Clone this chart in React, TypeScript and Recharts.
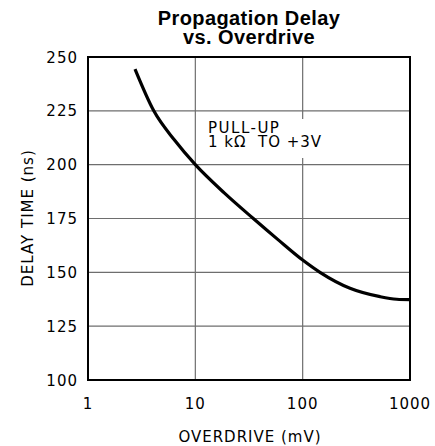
import React from "react";
import { LineChart, Line, XAxis, YAxis, CartesianGrid, Customized } from "recharts";

const overdriveMv = [2.74, 4.1, 6.45, 10, 18.7, 34.7, 58.9, 100, 145, 276, 526, 752, 1000];
const delayNs = [244.4, 225, 211.2, 200, 186.8, 175, 165.2, 155.7, 150, 142.6, 138.7, 137.5, 137.3];
const xTicks = [1, 10, 100, 1000];
const yTicks = [100, 125, 150, 175, 200, 225, 250];
const titleLines = ["Propagation Delay", "vs. Overdrive"];
const noteLines = ["PULL-UP", "1 k\u03a9  TO +3V"];
const xLabel = "OVERDRIVE (mV)";
const yLabel = "DELAY TIME (ns)";

const data = overdriveMv.map((x, i) => ({ x, y: delayNs[i] }));

const FONT = "'DejaVu Sans', sans-serif";
const TFONT = "'Liberation Sans', Arial, sans-serif";

const XTick = (props: any) => {
  const { x, payload } = props;
  return (
    <text x={x} y={409} textAnchor="middle" fontFamily={FONT} fontSize={15} letterSpacing={1} fill="#000">
      {payload.value}
    </text>
  );
};

const YTick = (props: any) => {
  const { y, payload } = props;
  return (
    <text x={78} y={y + 5.5} textAnchor="end" fontFamily={FONT} fontSize={15} letterSpacing={1} fill="#000">
      {payload.value}
    </text>
  );
};

const Decor = () => (
  <g>
    <text x={249} y={25} textAnchor="middle" fontFamily={TFONT} fontWeight="bold" fontSize={20} letterSpacing={0.4} fill="#000">
      {titleLines[0]}
    </text>
    <text x={249} y={44} textAnchor="middle" fontFamily={TFONT} fontWeight="bold" fontSize={20} letterSpacing={0.4} fill="#000">
      {titleLines[1]}
    </text>
    <rect x={202} y={119} width={110} height={39} fill="#fff" />
    <text x={208} y={133} fontFamily={FONT} fontSize={15} letterSpacing={1.5} fill="#000">
      {noteLines[0]}
    </text>
    <text x={208} y={147} fontFamily={FONT} fontSize={15} letterSpacing={1} fill="#000" style={{ whiteSpace: "pre" }}>
      {noteLines[1]}
    </text>
    <text x={250} y={442} textAnchor="middle" fontFamily={FONT} fontSize={15} letterSpacing={1} fill="#000">
      {xLabel}
    </text>
    <text x={33} y={218} transform="rotate(-90 33 218)" textAnchor="middle" fontFamily={FONT} fontSize={15} letterSpacing={1} fill="#000">
      {yLabel}
    </text>
  </g>
);

export default function App() {
  return (
    <div style={{ position: "absolute", left: 0, top: 0 }}>
      <LineChart width={435} height={446} data={data} margin={{ top: 57, right: 25, bottom: 0, left: 0 }}>
        <CartesianGrid stroke="#6e6e6e" strokeWidth={1.2} vertical={true} horizontal={true} />
        <XAxis
          dataKey="x"
          type="number"
          scale="log"
          domain={[1, 1000]}
          ticks={xTicks}
          allowDataOverflow
          tickLine={false}
          axisLine={false}
          tick={<XTick />}
          height={66}
        />
        <YAxis
          type="number"
          domain={[100, 250]}
          ticks={yTicks}
          allowDataOverflow
          tickLine={false}
          axisLine={false}
          tick={<YTick />}
          width={88}
        />
        <Customized component={Decor} />
        <Line
          dataKey="y"
          type="monotone"
          stroke="#000"
          strokeWidth={3.2}
          dot={false}
          isAnimationActive={false}
        />
        <Customized
          component={(p: any) => {
            const off = p.offset || { left: 88, top: 57, width: 322, height: 323 };
            return (
              <rect x={off.left} y={off.top} width={off.width} height={off.height} fill="none" stroke="#000" strokeWidth={2} />
            );
          }}
        />
      </LineChart>
    </div>
  );
}
